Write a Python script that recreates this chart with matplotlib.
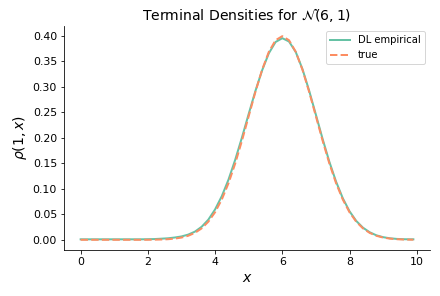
import matplotlib
matplotlib.use("Agg")
import matplotlib.pyplot as plt

x = [0.0, 0.2, 0.4, 0.6, 0.8, 1.0, 1.2, 1.4, 1.6, 1.8, 2.0, 2.2, 2.4, 2.6, 2.8,
     3.0, 3.2, 3.4, 3.6, 3.8, 4.0, 4.2, 4.4, 4.6, 4.8, 5.0, 5.2, 5.4, 5.6, 5.8,
     6.0, 6.2, 6.4, 6.6, 6.8, 7.0, 7.2, 7.4, 7.6, 7.8, 8.0, 8.2, 8.4, 8.6, 8.8,
     9.0, 9.2, 9.4, 9.6, 9.8, 9.9]

dl_empirical = [0.0010, 0.0010, 0.0010, 0.0010, 0.0010, 0.0010, 0.0010, 0.0010, 0.0010, 0.0010,
                0.0012, 0.0015, 0.0022, 0.0030, 0.0045, 0.0066, 0.0102, 0.0160, 0.0255, 0.0395,
                0.0595, 0.0855, 0.1180, 0.1570, 0.2005, 0.2465, 0.2915, 0.3320, 0.3655, 0.3875,
                0.3950, 0.3885, 0.3680, 0.3345, 0.2920, 0.2450, 0.1975, 0.1530, 0.1140, 0.0815,
                0.0560, 0.0370, 0.0238, 0.0148, 0.0088, 0.0052, 0.0030, 0.0018, 0.0012, 0.0010,
                0.0010]

true_density = [0.0000, 0.0000, 0.0000, 0.0000, 0.0000, 0.0000, 0.0000, 0.0000, 0.0000, 0.0000,
                0.0001, 0.0003, 0.0006, 0.0012, 0.0024, 0.0044, 0.0079, 0.0136, 0.0224, 0.0355,
                0.0540, 0.0790, 0.1109, 0.1497, 0.1942, 0.2420, 0.2897, 0.3332, 0.3683, 0.3910,
                0.3989, 0.3910, 0.3683, 0.3332, 0.2897, 0.2420, 0.1942, 0.1497, 0.1109, 0.0790,
                0.0540, 0.0355, 0.0224, 0.0136, 0.0079, 0.0044, 0.0024, 0.0012, 0.0006, 0.0003,
                0.0002]

green = "#66c2a5"
orange = "#fc8d62"

fig = plt.figure(figsize=(440 / 72, 296 / 72), dpi=72)
ax = fig.add_axes([64 / 440, 46 / 296, 366 / 440, 224 / 296])
ax.plot(x, dl_empirical, color=green, lw=2, label="DL empirical")
ax.plot(x, true_density, color=orange, lw=2, ls="--", label="true")
ax.set_yticks([0.0, 0.05, 0.10, 0.15, 0.20, 0.25, 0.30, 0.35, 0.40])
ax.set_yticklabels(["0.00", "0.05", "0.10", "0.15", "0.20", "0.25", "0.30", "0.35", "0.40"])
ax.set_xticks([0, 2, 4, 6, 8, 10])
ax.tick_params(labelsize=11)
ax.spines["top"].set_visible(False)
ax.spines["right"].set_visible(False)
ax.set_xlabel(r"$x$", fontsize=14)
ax.set_ylabel(r"$\rho(1, x)$", fontsize=14)
ax.set_title(r"Terminal Densities for $\mathcal{N}(6, 1)$", fontsize=14)
ax.legend(loc="upper right", fontsize=10)
fig.savefig("out.png", dpi=72)
